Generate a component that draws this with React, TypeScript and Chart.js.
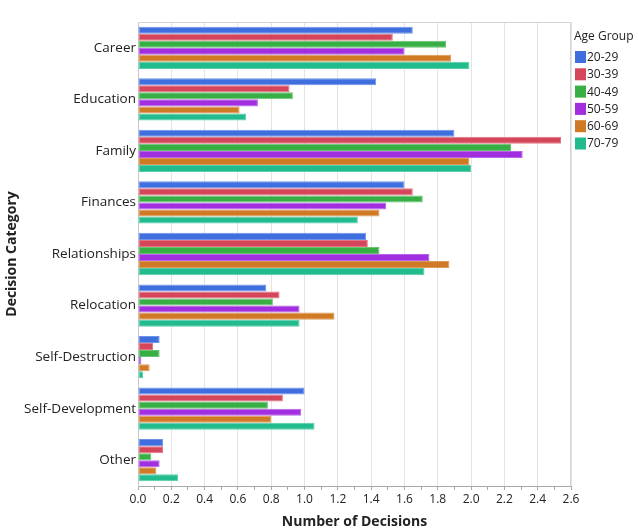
import React, { useEffect, useRef } from "react";
import { Chart, registerables } from "chart.js";

Chart.register(...registerables);

const categories = [
  "Career",
  "Education",
  "Family",
  "Finances",
  "Relationships",
  "Relocation",
  "Self-Destruction",
  "Self-Development",
  "Other",
];

const ageGroups = ["20-29", "30-39", "40-49", "50-59", "60-69", "70-79"];

const age20_29 = [1.65, 1.43, 1.9, 1.6, 1.37, 0.77, 0.13, 1.0, 0.15];
const age30_39 = [1.53, 0.91, 2.54, 1.65, 1.38, 0.85, 0.09, 0.87, 0.15];
const age40_49 = [1.85, 0.93, 2.24, 1.71, 1.45, 0.81, 0.13, 0.78, 0.08];
const age50_59 = [1.6, 0.72, 2.31, 1.49, 1.75, 0.97, 0.02, 0.98, 0.13];
const age60_69 = [1.88, 0.61, 1.99, 1.45, 1.87, 1.18, 0.07, 0.8, 0.11];
const age70_79 = [1.99, 0.65, 2.0, 1.32, 1.72, 0.97, 0.03, 1.06, 0.24];

const seriesValues = [age20_29, age30_39, age40_49, age50_59, age60_69, age70_79];

const xTickMax = 2.6;
const xTickStep = 0.1;

const fillColors = ["#3F6FDF", "#D6465A", "#38AF44", "#A12FE0", "#D07A26", "#22BB8E"];
const edgeColors = ["#6F93E8", "#E27483", "#69C373", "#B964E8", "#DC9A5A", "#5ACDAA"];

const FONT = "'Open Sans', 'Noto Sans', sans-serif";
const TEXT = "#222222";

const CHART_LEFT = 138;
const CHART_RIGHT = 571;
const CHART_TOP = 22;
const CHART_BOTTOM = 486;
const W = 639;
const H = 530;

const framePlugin = {
  id: "frame",
  beforeDatasetsDraw(chart: any) {
    const { ctx, chartArea } = chart;
    ctx.save();
    ctx.strokeStyle = "#d4d4d4";
    ctx.lineWidth = 1;
    ctx.beginPath();
    ctx.moveTo(chartArea.left, chartArea.top + 0.5);
    ctx.lineTo(chartArea.right - 0.5, chartArea.top + 0.5);
    ctx.lineTo(chartArea.right - 0.5, chartArea.bottom);
    ctx.stroke();
    ctx.restore();
  },
};

const legendPlugin = {
  id: "customLegend",
  afterDraw(chart: any) {
    const { ctx } = chart;
    ctx.save();
    ctx.fillStyle = TEXT;
    ctx.textBaseline = "middle";
    ctx.textAlign = "left";
    ctx.font = `12px ${FONT}`;
    ctx.fillText("Age Group", 574, 37);
    chart.data.datasets.forEach((ds: any, i: number) => {
      const top = 51 + i * 17.3;
      ctx.fillStyle = ds.backgroundColor;
      ctx.fillRect(575, top, 11, 12);
      ctx.fillStyle = TEXT;
      ctx.fillText(ds.label, 587, top + 6.5);
    });
    ctx.restore();
  },
};

export default function App() {
  const canvasRef = useRef<HTMLCanvasElement | null>(null);

  useEffect(() => {
    const canvas = canvasRef.current;
    if (!canvas) return;
    const chart = new Chart(canvas, {
      type: "bar",
      data: {
        labels: categories,
        datasets: ageGroups.map((g, i) => ({
          label: g,
          data: seriesValues[i],
          backgroundColor: fillColors[i],
          borderColor: edgeColors[i],
          borderWidth: 1,
          borderSkipped: false,
          categoryPercentage: 0.82,
          barPercentage: 1.0,
        })),
      },
      options: {
        indexAxis: "y",
        responsive: false,
        maintainAspectRatio: false,
        animation: false,
        layout: {
          padding: { top: CHART_TOP, right: W - CHART_RIGHT, left: 0, bottom: 0 },
        },
        plugins: {
          legend: { display: false },
          tooltip: { enabled: false },
          title: { display: false },
        },
        scales: {
          x: {
            type: "linear",
            min: 0,
            max: xTickMax,
            ticks: {
              stepSize: xTickStep,
              autoSkip: false,
              maxRotation: 0,
              color: TEXT,
              font: { family: FONT, size: 12 },
              padding: 2,
              callback: (v: any) => {
                const n = Math.round(Number(v) * 10);
                return n % 2 === 0 ? (n / 10).toFixed(1) : "";
              },
            },
            grid: {
              color: (c: any) => {
                const n = Math.round(Number(c.tick?.value ?? 0) * 10);
                return n % 2 === 0 ? "#e4e4e4" : "rgba(0,0,0,0)";
              },
              tickColor: "#a8a8a8",
              tickLength: 4,
              drawOnChartArea: true,
            },
            border: { display: true, color: "#a8a8a8", width: 1 },
            title: {
              display: true,
              text: "Number of Decisions",
              color: TEXT,
              font: { family: FONT, size: 14, weight: "bold" },
              padding: { top: 0, bottom: 0 },
            },
            afterFit: (s: any) => {
              s.height = H - CHART_BOTTOM;
            },
          },
          y: {
            type: "category",
            ticks: {
              color: TEXT,
              font: { family: FONT, size: 13.5 },
              padding: 2,
              autoSkip: false,
            },
            grid: { display: false, drawTicks: false },
            border: { display: true, color: "#c8c8c8", width: 1 },
            title: {
              display: true,
              text: "Decision Category",
              color: TEXT,
              font: { family: FONT, size: 14, weight: "bold" },
              padding: { top: 4, bottom: 0 },
            },
            afterFit: (s: any) => {
              s.width = CHART_LEFT;
            },
          },
        },
      },
      plugins: [framePlugin, legendPlugin],
    } as any);
    return () => chart.destroy();
  }, []);

  return (
    <div style={{ position: "fixed", left: 0, top: 0, width: W, height: H, background: "#fff" }}>
      <canvas ref={canvasRef} width={W} height={H} style={{ width: W, height: H, display: "block" }} />
    </div>
  );
}
